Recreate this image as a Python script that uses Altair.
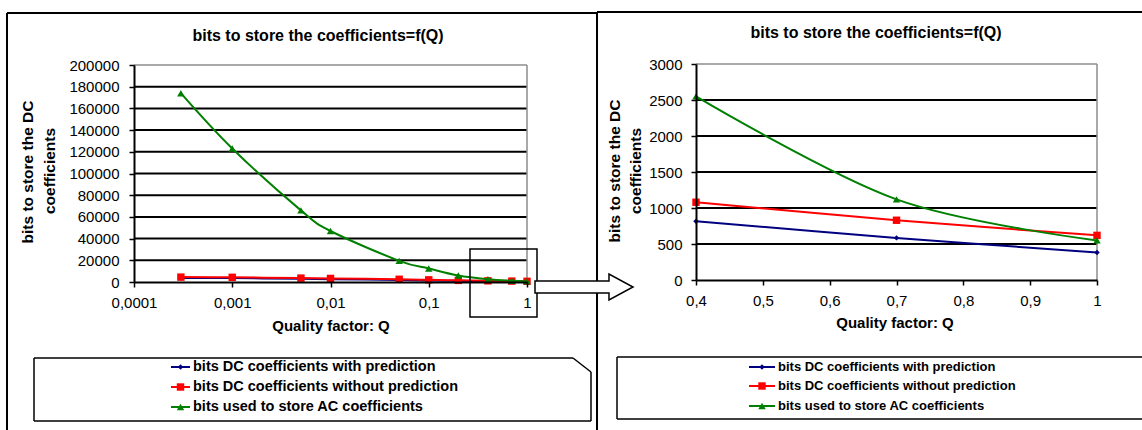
import altair as alt
import pandas as pd

# ---------------- data ----------------
quality = [0.0003, 0.001, 0.005, 0.01, 0.05, 0.1, 0.2, 0.4, 0.7, 1.0]
dc_with_prediction = [3800, 3600, 2900, 2600, 1800, 1350, 1050, 815, 585, 383]
dc_without_prediction = [4500, 4300, 3600, 3300, 2500, 2000, 1500, 1080, 830, 620]
ac_bits = [174000, 123000, 66000, 47000, 19500, 12500, 6000, 2550, 1120, 550]

series_names = [
    "bits DC coefficients with prediction",
    "bits DC coefficients without prediction",
    "bits used to store AC coefficients",
]
series_values = [dc_with_prediction, dc_without_prediction, ac_bits]
series_colors = ["#000080", "#FF0000", "#008000"]
series_shapes = ["diamond", "square", "triangle-up"]
series_sizes = [30, 55, 55]

left_x_ticks = [0.0001, 0.001, 0.01, 0.1, 1]
left_y_ticks = [0, 20000, 40000, 60000, 80000, 100000, 120000, 140000, 160000, 180000, 200000]
right_x_ticks = [0.4, 0.5, 0.6, 0.7, 0.8, 0.9, 1.0]
right_y_ticks = [0, 500, 1000, 1500, 2000, 2500, 3000]
zoom_min_q = 0.4

chart_title = "bits to store the coefficients=f(Q)"
x_title = "Quality factor: Q"
y_title = ["bits to store the DC", "coefficients"]

FONT = "Liberation Sans"

rows = []
for i, q in enumerate(quality):
    for name, vals in zip(series_names, series_values):
        rows.append({"Q": q, "bits": vals[i], "series": name})
df_all = pd.DataFrame(rows)
df_zoom = df_all[df_all["Q"] >= zoom_min_q]
one = pd.DataFrame({"k": [0]})

LABEL_EXPR = "replace(format(datum.value, '~g'), '.', ',')"


def make_axis(orient, offset, values, pad, label_expr=None, fmt=None):
    kw = dict(
        orient=orient, offset=offset, values=values, grid=False, title=None,
        domainColor="black", domainWidth=2, tickColor="black", tickWidth=1.5,
        tickSize=5, labelFontSize=15, labelColor="black", labelFont=FONT,
        labelPadding=pad, labelFlush=False, labelOverlap=False, labelBound=False,
        zindex=1,
    )
    if label_expr:
        kw["labelExpr"] = label_expr
    if fmt:
        kw["format"] = fmt
    return alt.Axis(**kw)


def panel(data, xs, ys, xa, ya, x_lo, x_hi, y_ticks, y_top):
    layers = []
    grid_df = pd.DataFrame({"v": [t for t in y_ticks if 0 < t < y_top]})
    layers.append(
        alt.Chart(grid_df).mark_rule(color="black", strokeWidth=2).encode(
            y=alt.Y("v:Q", scale=ys, axis=ya),
            x=alt.XDatum(x_lo, type="quantitative", scale=xs, axis=xa),
            x2=alt.X2Datum(x_hi),
        )
    )
    border = alt.Chart(one).mark_rule(color="#8c8c8c", strokeWidth=1.5)
    layers.append(border.encode(
        y=alt.YDatum(y_top, type="quantitative", scale=ys, axis=None),
        x=alt.XDatum(x_lo, type="quantitative", scale=xs, axis=None),
        x2=alt.X2Datum(x_hi),
    ))
    layers.append(border.encode(
        x=alt.XDatum(x_hi, type="quantitative", scale=xs, axis=None),
        y=alt.YDatum(0, type="quantitative", scale=ys, axis=None),
        y2=alt.Y2Datum(y_top),
    ))
    for name, color, shape, size in zip(series_names, series_colors, series_shapes, series_sizes):
        sub = data[data["series"] == name]
        layers.append(
            alt.Chart(sub).mark_line(color=color, strokeWidth=2, interpolate="cardinal").encode(
                x=alt.X("Q:Q", scale=xs, axis=None),
                y=alt.Y("bits:Q", scale=ys, axis=None),
            )
        )
        layers.append(
            alt.Chart(sub).mark_point(shape=shape, filled=True, color=color, size=size, opacity=1).encode(
                x=alt.X("Q:Q", scale=xs, axis=None),
                y=alt.Y("bits:Q", scale=ys, axis=None),
            )
        )
    return layers


left_xs = alt.Scale(type="log", domain=[0.0001, 1], range=[134, 527], nice=False)
left_ys = alt.Scale(domain=[0, 200000], range=[282, 65], nice=False)
right_xs = alt.Scale(domain=[0.4, 1.0], range=[696, 1097], nice=False, zero=False)
right_ys = alt.Scale(domain=[0, 3000], range=[280, 64], nice=False)

left_layers = panel(
    df_all, left_xs, left_ys,
    make_axis("bottom", 282 - 430, left_x_ticks, 8, label_expr=LABEL_EXPR),
    make_axis("left", -134, left_y_ticks, 10, fmt="d"),
    0.0001, 1, left_y_ticks, 200000,
)
right_layers = panel(
    df_zoom, right_xs, right_ys,
    make_axis("bottom", 280 - 430, right_x_ticks, 8, label_expr=LABEL_EXPR),
    make_axis("left", -696, right_y_ticks, 9, fmt="d"),
    0.4, 1.0, right_y_ticks, 3000,
)


def seg(x0, y0, x1, y1, color="black", width=1.5):
    return alt.Chart(one).mark_rule(color=color, strokeWidth=width).encode(
        x=alt.value(x0), y=alt.value(y0), x2=alt.value(x1), y2=alt.value(y1)
    )


def txt(s, x, y, size, weight="bold", align="center", angle=0):
    return alt.Chart(one).mark_text(
        text=s, align=align, baseline="middle", fontSize=size, fontWeight=weight,
        font=FONT, color="black", angle=angle,
    ).encode(x=alt.value(x), y=alt.value(y))


deco = []
# outer frames
deco += [seg(7, 13, 597, 13, width=2), seg(7, 13, 7, 430, width=2), seg(597, 13, 597, 430, width=2)]
deco += [seg(597, 12, 1142, 12, width=2)]
# titles
deco += [txt(chart_title, 318, 36, 16), txt(chart_title, 876, 33, 16)]
deco += [txt(x_title, 331, 326, 15), txt(x_title, 895, 323, 15)]
deco += [txt(y_title[0], 28, 172, 15.5, angle=270), txt(y_title[1], 50, 171, 15.5, angle=270)]
deco += [txt(y_title[0], 615, 171, 15.5, angle=270), txt(y_title[1], 636, 171, 15.5, angle=270)]

# legend boxes
deco += [seg(34, 358, 573, 358), seg(573, 358, 591, 372), seg(591, 372, 591, 421),
         seg(34, 421, 591, 421), seg(34, 358, 34, 421)]
deco += [seg(617, 357, 1142, 357), seg(617, 419, 1142, 419), seg(617, 357, 617, 419)]


def legend(x0, x1, xt, ys, size):
    out = []
    for name, color, shape, msize, y in zip(series_names, series_colors, series_shapes, series_sizes, ys):
        out.append(seg(x0, y, x1, y, color=color, width=2))
        out.append(alt.Chart(one).mark_point(shape=shape, filled=True, color=color, size=msize, opacity=1)
                   .encode(x=alt.value((x0 + x1) / 2), y=alt.value(y)))
        out.append(txt(name, xt, y, size, align="left"))
    return out


deco += legend(171, 190, 193, [367, 387, 407], 14.5)
deco += legend(749, 775, 778, [367, 386, 406], 13)

# zoom box and arrow
deco.append(alt.Chart(one).mark_rect(fillOpacity=0, stroke="black", strokeWidth=1.5).encode(
    x=alt.value(470), x2=alt.value(537), y=alt.value(249), y2=alt.value(317)))
arrow_path = "M -1 -0.122 L 0.51 -0.122 L 0.51 -0.265 L 1 0 L 0.51 0.265 L 0.51 0.122 L -1 0.122 Z"
deco.append(alt.Chart(one).mark_point(shape=arrow_path, filled=True, fill="white", stroke="black",
                                      strokeWidth=1.5, size=98 * 98, opacity=1, fillOpacity=1)
            .encode(x=alt.value(584), y=alt.value(287)))

chart = (
    alt.layer(*left_layers, *right_layers, *deco)
    .resolve_scale(x="independent", y="independent")
    .properties(width=1142, height=430, padding=0, autosize=alt.AutoSizeParams(type="none"),
                background="white")
    .configure_view(stroke=None)
)

chart.save("out.html", embed_options={"renderer": "svg", "actions": False})
